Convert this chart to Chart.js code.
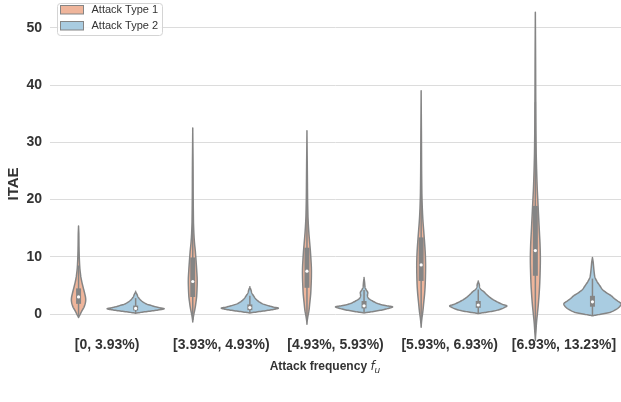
<!DOCTYPE html>
<html>
<head>
<meta charset="utf-8">
<script src="https://cdn.jsdelivr.net/npm/chart.js@4.4.1/dist/chart.umd.min.js"></script>
<style>
  html, body { margin: 0; padding: 0; background: #ffffff; }
  #c { display: block; }
</style>
</head>
<body>
<canvas id="c" width="621" height="402"></canvas>
<script>
// ---------------- DATA ----------------
const categories = ['[0, 3.93%)', '[3.93%, 4.93%)', '[4.93%, 5.93%)', '[5.93%, 6.93%)', '[6.93%, 13.23%]'];
const seriesNames = ['Attack Type 1', 'Attack Type 2'];
const yTicks = [0, 10, 20, 30, 40, 50];

// Attack Type 1 summary statistics (ITAE)
const type1Median = [3.0, 5.7, 7.5, 8.6, 11.1];
const type1Q1 = [1.8, 3.0, 4.6, 5.8, 6.7];
const type1Q3 = [4.5, 9.9, 11.6, 13.4, 18.9];
const type1WhiskerLow = [-0.3, -1.0, -1.2, -1.6, -3.0];
const type1WhiskerHigh = [8.5, 20.0, 22.0, 24.0, 37.0];
// density profile: [ITAE value, relative half-width]
const type1Density = [
  [[-0.6,0],[0.0,0.06],[0.6,0.12],[1.2,0.19],[2.0,0.24],[2.7,0.25],[3.5,0.22],[4.5,0.17],[5.5,0.12],[6.5,0.08],[8.0,0.045],[10,0.025],[12,0.015],[14,0.01],[15.4,0]],
  [[-1.35,0],[-0.5,0.02],[0.0,0.04],[1.0,0.08],[2.0,0.11],[3.0,0.135],[4.5,0.15],[6,0.155],[7.5,0.14],[9,0.12],[11,0.09],[12.5,0.06],[14,0.04],[16,0.025],[20,0.016],[26,0.011],[32.5,0]],
  [[-1.75,0],[-0.8,0.02],[0.6,0.07],[2,0.1],[3.5,0.13],[5,0.145],[6.5,0.155],[8,0.155],[9.5,0.14],[11,0.12],[12.5,0.095],[14,0.07],[15.5,0.05],[17,0.035],[20,0.022],[25,0.013],[32,0]],
  [[-2.3,0],[-1,0.02],[0.5,0.06],[2,0.09],[3.5,0.12],[5,0.14],[6.5,0.15],[8.5,0.155],[10.5,0.145],[12.5,0.12],[14.5,0.09],[16.5,0.06],[18.5,0.04],[21,0.025],[25,0.016],[31,0.01],[39,0]],
  [[-4.55,0],[-3,0.02],[-1.5,0.04],[0,0.07],[1.5,0.1],[3,0.125],[5,0.15],[7,0.165],[9.5,0.175],[12,0.165],[14.5,0.14],[17,0.115],[19.5,0.09],[22,0.065],[25,0.045],[28,0.03],[32,0.02],[38,0.013],[45,0.008],[52.7,0]]
];

// Attack Type 2 summary statistics (ITAE)
const type2Median = [1.0, 1.15, 1.45, 1.6, 2.15];
const type2Q1 = [0.65, 0.7, 1.0, 1.1, 1.3];
const type2Q3 = [1.5, 1.7, 2.3, 2.3, 3.2];
const type2WhiskerLow = [0.2, 0.2, 0.2, 0.1, -0.3];
const type2WhiskerHigh = [2.8, 3.2, 4.2, 4.3, 6.2];
const type2Density = [
  [[0.15,0],[0.28,0.15],[0.52,0.5],[0.75,0.82],[0.95,1.0],[1.1,0.85],[1.33,0.66],[1.75,0.39],[2.3,0.21],[2.9,0.1],[3.4,0.05],[4.0,0]],
  [[0.2,0],[0.35,0.2],[0.6,0.55],[0.85,0.85],[1.05,1.0],[1.2,0.85],[1.45,0.66],[1.8,0.45],[2.2,0.31],[2.7,0.2],[3.2,0.13],[3.7,0.07],[4.2,0.04],[4.8,0]],
  [[0.2,0],[0.4,0.25],[0.7,0.6],[1.0,0.85],[1.28,1.0],[1.45,0.8],[1.63,0.62],[1.9,0.45],[2.2,0.33],[2.6,0.2],[2.9,0.14],[3.3,0.12],[3.8,0.13],[4.3,0.07],[4.7,0.035],[5.5,0.02],[6.4,0]],
  [[0.1,0],[0.3,0.25],[0.58,0.58],[0.9,0.8],[1.2,0.93],[1.45,1.0],[1.7,0.85],[2.1,0.68],[2.5,0.53],[3.0,0.39],[3.5,0.28],[3.9,0.2],[4.3,0.1],[4.7,0.05],[5.2,0.035],[5.8,0]],
  [[-0.3,0],[-0.05,0.25],[0.28,0.6],[0.8,0.82],[1.3,0.95],[1.85,1.0],[2.3,0.88],[2.8,0.75],[3.2,0.66],[3.7,0.5],[4.3,0.35],[4.95,0.26],[5.6,0.17],[6.4,0.09],[7.3,0.06],[8.3,0.04],[9.1,0.025],[9.9,0]]
];

// ---------------- STYLE ----------------
const FONT = "'Liberation Sans', Arial, Helvetica, sans-serif";
const COLOR_T1 = '#efb59b';
const COLOR_T2 = '#a9cce1';
const GRAY = '#858585';
const TEXT = '#333333';

function catmull(p0, p1, p2, p3, t) {
  const t2 = t * t, t3 = t2 * t;
  return 0.5 * ((2 * p1) + (-p0 + p2) * t + (2 * p0 - 5 * p1 + 4 * p2 - p3) * t2 + (-p0 + 3 * p1 - 3 * p2 + p3) * t3);
}
function sampleProfile(prof, n) {
  const out = [];
  for (let k = 0; k < prof.length - 1; k++) {
    const p0 = prof[Math.max(k - 1, 0)], p1 = prof[k], p2 = prof[k + 1], p3 = prof[Math.min(k + 2, prof.length - 1)];
    for (let s = 0; s < n; s++) {
      const t = s / n;
      const v = p1[0] + (p2[0] - p1[0]) * t;
      const w = catmull(p0[1], p1[1], p2[1], p3[1], t);
      out.push([v, Math.max(w, 0)]);
    }
  }
  out.push(prof[prof.length - 1]);
  return out;
}

const violinPlugin = {
  id: 'violins',
  afterDatasetsDraw(chart) {
    const { ctx, scales: { x, y } } = chart;
    const step = x.getPixelForValue(1) - x.getPixelForValue(0);
    const W = step * 0.25;
    chart.data.datasets.forEach((ds, di) => {
      const vd = ds.violin;
      const off = (di === 0 ? -0.25 : 0.25) * step;
      vd.density.forEach((prof, i) => {
        const cx = x.getPixelForValue(i) + off;
        const pts = sampleProfile(prof, 8);
        ctx.save();
        ctx.beginPath();
        pts.forEach(([v, w], k) => {
          const px = cx - w * W, py = y.getPixelForValue(v);
          if (k === 0) ctx.moveTo(px, py); else ctx.lineTo(px, py);
        });
        for (let k = pts.length - 1; k >= 0; k--) {
          const [v, w] = pts[k];
          ctx.lineTo(cx + w * W, y.getPixelForValue(v));
        }
        ctx.closePath();
        ctx.fillStyle = ds.backgroundColor;
        ctx.fill();
        ctx.lineJoin = 'round';
        ctx.lineWidth = 1.5;
        ctx.strokeStyle = GRAY;
        ctx.stroke();
        // whisker
        ctx.beginPath();
        ctx.moveTo(cx, y.getPixelForValue(vd.whiskerLow[i]));
        ctx.lineTo(cx, y.getPixelForValue(vd.whiskerHigh[i]));
        ctx.lineWidth = 1.5;
        ctx.strokeStyle = GRAY;
        ctx.stroke();
        // box
        ctx.beginPath();
        ctx.moveTo(cx, y.getPixelForValue(vd.q1[i]));
        ctx.lineTo(cx, y.getPixelForValue(vd.q3[i]));
        ctx.lineWidth = 5;
        ctx.lineCap = 'butt';
        ctx.stroke();
        // median
        ctx.beginPath();
        ctx.arc(cx, y.getPixelForValue(vd.median[i]), 1.6, 0, Math.PI * 2);
        ctx.fillStyle = '#ffffff';
        ctx.fill();
        ctx.restore();
      });
    });
  },
  afterDraw(chart) {
    const { ctx, chartArea } = chart;
    ctx.save();
    // Legend (inside plot, top-left)
    const lx = chartArea.left + 7.5, ly = 3.5, lw = 105, lh = 32;
    ctx.beginPath();
    ctx.roundRect(lx, ly, lw, lh, 3);
    ctx.fillStyle = 'rgba(255,255,255,0.85)';
    ctx.fill();
    ctx.strokeStyle = '#d4d4d4';
    ctx.lineWidth = 1;
    ctx.stroke();
    chart.data.datasets.forEach((ds, i) => {
      const ry = ly + 2 + i * 16;
      ctx.fillStyle = ds.backgroundColor;
      ctx.fillRect(lx + 3, ry, 23, 8.5);
      ctx.strokeStyle = GRAY;
      ctx.lineWidth = 1;
      ctx.strokeRect(lx + 3, ry, 23, 8.5);
      ctx.fillStyle = TEXT;
      ctx.font = '11px ' + FONT;
      ctx.textBaseline = 'middle';
      ctx.textAlign = 'left';
      ctx.fillText(ds.label, lx + 34, ry + 4.5);
    });
    // Y axis title
    ctx.save();
    ctx.translate(14, 184);
    ctx.rotate(-Math.PI / 2);
    ctx.font = 'bold 15px ' + FONT;
    ctx.fillStyle = TEXT;
    ctx.textAlign = 'center';
    ctx.textBaseline = 'middle';
    ctx.fillText('ITAE', 0, 0);
    ctx.restore();
    // X axis title with italic f_u
    const main = 'Attack frequency ';
    ctx.font = 'bold 12px ' + FONT;
    const w1 = ctx.measureText(main).width;
    ctx.font = 'italic 12px DejaVu Sans';
    const w2 = ctx.measureText('f').width;
    ctx.font = 'italic 9px DejaVu Sans';
    const w3 = ctx.measureText('u').width;
    const total = w1 + w2 + w3;
    const cxT = 325, cyT = 365;
    let sx = cxT - total / 2;
    ctx.textAlign = 'left';
    ctx.textBaseline = 'alphabetic';
    ctx.fillStyle = TEXT;
    ctx.font = 'bold 12px ' + FONT;
    ctx.fillText(main, sx, cyT + 4.5);
    sx += w1;
    ctx.font = 'italic 12px DejaVu Sans';
    ctx.fillText('f', sx, cyT + 4.5);
    sx += w2;
    ctx.font = 'italic 9px DejaVu Sans';
    ctx.fillText('u', sx, cyT + 7.5);
    ctx.restore();
  }
};

const bgPlugin = {
  id: 'bg',
  beforeDraw(chart) {
    const { ctx, width, height } = chart;
    ctx.save();
    ctx.fillStyle = '#ffffff';
    ctx.fillRect(0, 0, width, height);
    ctx.restore();
  }
};

new Chart(document.getElementById('c'), {
  type: 'bar',
  data: {
    labels: categories,
    datasets: [
      {
        label: seriesNames[0],
        data: categories.map(() => null),
        backgroundColor: COLOR_T1,
        violin: { median: type1Median, q1: type1Q1, q3: type1Q3, whiskerLow: type1WhiskerLow, whiskerHigh: type1WhiskerHigh, density: type1Density }
      },
      {
        label: seriesNames[1],
        data: categories.map(() => null),
        backgroundColor: COLOR_T2,
        violin: { median: type2Median, q1: type2Q1, q3: type2Q3, whiskerLow: type2WhiskerLow, whiskerHigh: type2WhiskerHigh, density: type2Density }
      }
    ]
  },
  options: {
    responsive: false,
    devicePixelRatio: 1,
    animation: false,
    layout: { padding: { left: 26, right: 0, top: 2, bottom: 45 } },
    plugins: { legend: { display: false }, tooltip: { enabled: false } },
    scales: {
      x: {
        type: 'category',
        offset: true,
        grid: { display: false, drawTicks: false },
        border: { display: false },
        ticks: { font: { family: FONT, size: 14, weight: 'bold' }, color: TEXT, padding: 3, maxRotation: 0, autoSkip: false },
        afterFit(s) { s.paddingLeft = 0; s.paddingRight = 0; }
      },
      y: {
        min: -3.5,
        max: 54.5,
        grid: { color: '#dcdcdc', lineWidth: 1, drawTicks: false },
        border: { display: false },
        ticks: { font: { family: FONT, size: 14, weight: 'bold' }, color: TEXT, padding: 8 },
        afterBuildTicks(s) { s.ticks = yTicks.map(v => ({ value: v })); },
        afterFit(s) { s.width = 24; s.paddingTop = 0; s.paddingBottom = 0; }
      }
    }
  },
  plugins: [bgPlugin, violinPlugin]
});
</script>
</body>
</html>
